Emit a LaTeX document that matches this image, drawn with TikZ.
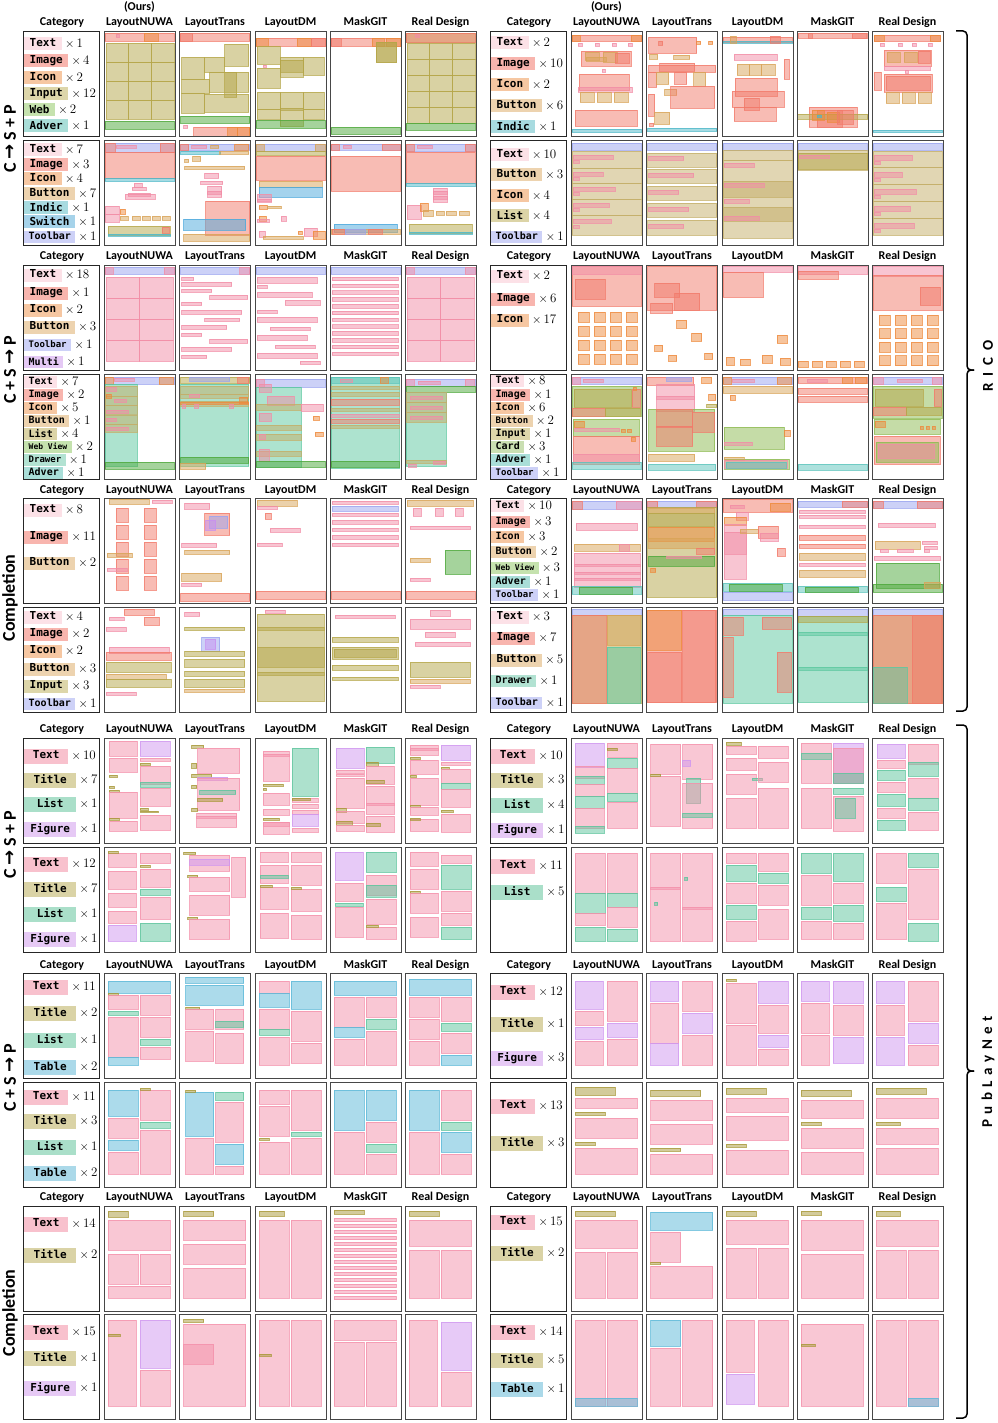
\documentclass[tikz,border=0pt]{standalone}
\usepackage{fontspec}
\newfontfamily\hdf{Carlito}
\newfontfamily\tagf{DejaVu Sans Mono}
\newfontfamily\djv{DejaVu Sans}
\definecolor{gText}{HTML}{FCE1E7}\definecolor{gImage}{HTML}{F8B5AE}\definecolor{gIcon}{HTML}{F6C7A2}
\definecolor{gInput}{HTML}{DDD6AA}\definecolor{gWeb}{HTML}{C5E2AE}\definecolor{gAdver}{HTML}{A9DED8}
\definecolor{gButton}{HTML}{EDD3AF}\definecolor{gIndic}{HTML}{A8DBE0}\definecolor{gSwitch}{HTML}{A6D3EA}
\definecolor{gToolbar}{HTML}{CDD1F7}\definecolor{gMulti}{HTML}{E5C9F5}\definecolor{gList}{HTML}{DCD4A7}
\definecolor{gDrawer}{HTML}{B2E2D2}\definecolor{gCard}{HTML}{CADFB2}
\definecolor{qText}{HTML}{F8C1CD}\definecolor{qTitle}{HTML}{DAD3A6}\definecolor{qList}{HTML}{AADFC9}
\definecolor{qFigure}{HTML}{E6C9F5}\definecolor{qTable}{HTML}{ABD9E9}
\definecolor{lTx}{HTML}{F28DA6}\definecolor{lIm}{HTML}{F27A6A}\definecolor{lIc}{HTML}{EE8A3C}
\definecolor{lIn}{HTML}{B5A649}\definecolor{lWb}{HTML}{4DA83A}\definecolor{lAd}{HTML}{5CC4BC}
\definecolor{lBt}{HTML}{D9A458}\definecolor{lInd}{HTML}{4DB8C8}\definecolor{lSw}{HTML}{4AA8DC}
\definecolor{lTb}{HTML}{9AA4F0}\definecolor{lMu}{HTML}{C890F0}\definecolor{lLi}{HTML}{C4AE68}
\definecolor{lDr}{HTML}{5CC8A0}\definecolor{lCd}{HTML}{8DBA50}
\definecolor{lPtx}{HTML}{F490AA}\definecolor{lPti}{HTML}{A89838}\definecolor{lPli}{HTML}{5CC49C}
\definecolor{lPfi}{HTML}{D096F0}\definecolor{lPta}{HTML}{5AB8D8}
\tikzset{
 lay/.style={fill=#1,fill opacity=.5,draw=#1,draw opacity=.75,line width=.4pt},
 Ltx/.style={lay=lTx},Lim/.style={lay=lIm},Lic/.style={lay=lIc},Linp/.style={lay=lIn},
 Lwb/.style={lay=lWb},Lad/.style={lay=lAd},Lbt/.style={lay=lBt},Lind/.style={lay=lInd},
 Lsw/.style={lay=lSw},Ltb/.style={lay=lTb},Lmu/.style={lay=lMu},Lli/.style={lay=lLi},
 Ldr/.style={lay=lDr},Lcd/.style={lay=lCd},
 Lptx/.style={lay=lPtx},Lpti/.style={lay=lPti},Lpli/.style={lay=lPli},Lpfi/.style={lay=lPfi},Lpta/.style={lay=lPta},
 pframe/.style={draw=black!72,line width=1pt},
 cbox/.style={draw=black!85,line width=1pt,fill=white},
 hd/.style={anchor=base,font=\hdf\bfseries\fontsize{12}{12}\selectfont,inner sep=0pt},
 side/.style={rotate=90,font=\hdf\bfseries\fontsize{18}{18}\selectfont,inner sep=0pt},
 rlab/.style={rotate=90,font=\hdf\bfseries\fontsize{15}{15}\selectfont,inner sep=0pt},
 rtag/.style={anchor=west,inner xsep=5.5pt,inner ysep=0pt,minimum height=13pt,font=\tagf\bfseries\fontsize{11}{11}\selectfont},
 ptag/.style={minimum height=15pt,minimum width=52pt},
 ptx/.style={minimum height=15pt,minimum width=44pt},
 fs10/.style={font=\tagf\bfseries\fontsize{10}{10}\selectfont,minimum height=12pt,inner xsep=4.5pt},
 fs9/.style={font=\tagf\bfseries\fontsize{9}{9}\selectfont,minimum height=12pt,inner xsep=4.5pt},
 fs8/.style={font=\tagf\bfseries\fontsize{8}{8}\selectfont,minimum height=12pt,inner xsep=4.5pt},
 cnt/.style={anchor=west,inner sep=0pt,xshift=3pt,font=\fontsize{13}{13}\selectfont},
 brc/.style={line width=1.5pt,rounded corners=4pt},
}
\newcommand\Bx[5]{\path[L#1] (#2,#3) rectangle ++(#4,#5);}
\newcommand\Grd[7]{\foreach \i in {0,...,#4}{\foreach \j in {0,...,#5}{\path[L#1] ({#2+\i*#6},{#3+\j*#7}) rectangle ++(#6,#7);}}}
\newcommand\Grg[9]{\foreach \i in {0,...,#4}{\foreach \j in {0,...,#5}{\path[L#1] ({#2+\i*#6},{#3+\j*#7}) rectangle ++(#8,#9);}}}
\newcommand\Pn[3]{\begin{scope}[shift={(#1,#2)}]#3\draw[pframe](0,0) rectangle (71,105);\end{scope}}
\newcommand\cbx[2]{\path[cbox] (#1,#2) rectangle ++(76,105);}
\newcommand\ctag[6][]{\node[rtag,fill=#4,#1] (#2) at (#3) {\vphantom{Ig}#5};\node[cnt] (#2x) at (#2.east) {$\times$\,#6};}
\newcommand\hdrs[3]{%
\node[hd] (#1c) at (62+#3,#2+4) {Category};
\node[hd] (#1a) at (139.5+#3,#2+4) {LayoutNUWA};
\node[hd] (#1b) at (215+#3,#2+4) {LayoutTrans};
\node[hd] (#1d) at (290.5+#3,#2+4) {LayoutDM};
\node[hd] (#1e) at (365.5+#3,#2+4) {MaskGIT};
\node[hd] (#1f) at (440.5+#3,#2+4) {Real Design};}
\begin{document}
\begin{tikzpicture}[x=1pt,y=-1pt]
\useasboundingbox (0,0) rectangle (997,1423);
\fill[white] (0,0) rectangle (997,1423);
% headers
\node[hd] (ours1) at (139.5,11) {(Ours)};
\node[hd] (ours2) at (606.5,11) {(Ours)};
\hdrs{hA}{22}{0}\hdrs{hB}{22}{467}
\hdrs{hC}{255}{0}\hdrs{hD}{255}{467}
\hdrs{hE}{489}{0}\hdrs{hF}{489}{467}
\hdrs{hG}{728}{0}\hdrs{hH}{728}{467}
\hdrs{hI}{964}{0}\hdrs{hJ}{964}{467}
\hdrs{hK}{1196}{0}\hdrs{hL}{1196}{467}
% side labels
\node[side] (s1) at (10,139) {C {\djv →} S + P};
\node[side] (s2) at (10,370) {C + S {\djv →} P};
\node[side] (s3) at (10,598) {Completion};
\node[side] (s4) at (10,845) {C {\djv →} S + P};
\node[side] (s5) at (10,1078) {C + S {\djv →} P};
\node[side] (s6) at (10,1313) {Completion};
\node[rlab] (rico) at (988,366) {R\hspace{7pt}I\hspace{7pt}C\hspace{7pt}O};
\node[rlab] (pln) at (988,1072) {P\hspace{5.5pt}u\hspace{5.5pt}b\hspace{5.5pt}L\hspace{5.5pt}a\hspace{5.5pt}y\hspace{5.5pt}N\hspace{5.5pt}e\hspace{5.5pt}t};
\draw[brc] (956,31) -- (967,31) -- (967,370) -- (974,370);
\draw[brc] (974,370) -- (967,370) -- (967,711) -- (956,711);
\draw[brc] (956,725) -- (967,725) -- (967,1071) -- (974,1071);
\draw[brc] (974,1071) -- (967,1071) -- (967,1418) -- (956,1418);
% ================= ROW 1
\cbx{23}{32}
\ctag{t1L1}{24,43.5}{gText}{Text}{1}
\ctag{t1L2}{24,61}{gImage}{Image}{4}
\ctag{t1L3}{24,77.5}{gIcon}{Icon}{2}
\ctag{t1L4}{24,94}{gInput}{Input}{12}
\ctag{t1L5}{24,110}{gWeb}{Web}{2}
\ctag{t1L6}{24,126}{gAdver}{Adver}{1}
\cbx{490}{32}
\ctag{t1R1}{491,43}{gText}{Text}{2}
\ctag{t1R2}{491,64}{gImage}{Image}{10}
\ctag{t1R3}{491,85}{gIcon}{Icon}{2}
\ctag{t1R4}{491,106}{gButton}{Button}{6}
\ctag{t1R5}{491,127}{gIndic}{Indic}{1}
\Pn{104}{32}{\Bx{im}{1}{1}{69}{8}\Bx{ic}{40}{1}{14}{8}\Bx{tx}{12}{2}{3}{3}\Grd{inp}{2}{11}{2}{3}{22.6}{19}\Bx{wb}{1}{89}{69}{8}}
\Pn{179.5}{32}{\Bx{im}{1}{1}{69}{8}\Bx{im}{1}{1}{12}{8}\Bx{inp}{45}{12}{24}{22}\Bx{inp}{2}{25}{23}{22}\Bx{inp}{25}{25}{20}{15}\Bx{inp}{30}{40}{39}{20}\Bx{inp}{2}{47}{28}{14}\Bx{inp}{2}{61}{23}{20}\Bx{inp}{25}{62}{44}{18}\Bx{inp}{45}{40}{12}{25}\Bx{wb}{1}{84}{69}{7}\Bx{tx}{4}{93}{4}{3}\Bx{im}{14}{95}{56}{9}\Bx{ic}{48}{95}{10}{9}\Bx{ic}{58}{95}{12}{9}}
\Pn{255}{32}{\Bx{im}{1}{6}{69}{8}\Bx{ic}{1}{6}{12}{8}\Bx{ic}{42}{6}{14}{8}\Bx{im}{56}{6}{14}{8}\Bx{inp}{2}{14}{23}{18}\Bx{tx}{8}{33}{3}{2}\Bx{inp}{2}{36}{23}{20}\Bx{inp}{25}{25}{23}{20}\Bx{inp}{48}{25}{21}{18}\Bx{inp}{25}{28}{23}{12}\Bx{inp}{2}{60}{23}{17}\Bx{inp}{25}{60}{23}{18}\Bx{inp}{48}{60}{21}{17}\Bx{inp}{2}{77}{23}{10}\Bx{inp}{25}{76}{23}{18}\Bx{inp}{48}{77}{21}{10}\Bx{wb}{1}{88}{69}{8}}
\Pn{330}{32}{\Bx{im}{1}{6}{69}{8}\Bx{im}{1}{6}{10}{8}\Bx{ic}{42}{6}{12}{8}\Bx{ic}{56}{6}{14}{8}\Bx{inp}{46}{10}{20}{20}\Bx{inp}{46}{10}{20}{20}\Bx{wb}{1}{95}{69}{7}}
\Pn{405}{32}{\Bx{inp}{1}{1}{69}{9}\Bx{im}{1}{1}{69}{9}\Bx{tx}{10}{2}{4}{3}\Grd{inp}{2}{11}{2}{4}{22.6}{16}\Bx{wb}{1}{91}{69}{7}}
\Pn{571}{32}{\Bx{im}{1}{3}{69}{6}\Bx{ic}{1}{3}{8}{6}\Bx{ic}{60}{3}{10}{6}\Bx{tx}{7}{11}{4}{3}\Bx{tx}{24}{11}{4}{3}\Bx{tx}{41}{11}{4}{3}\Bx{tx}{57}{11}{4}{3}\Bx{im}{10}{19}{50}{15}\Bx{bt}{14}{20}{14}{8}\Bx{bt}{32}{20}{14}{10}\Bx{bt}{15}{25}{20}{4}\Bx{im}{44}{21}{14}{10}\Bx{tx}{31}{37}{3}{3}\Bx{im}{8}{42}{50}{16}\Bx{tx}{7}{55}{54}{5}\Bx{bt}{9}{60}{14}{10}\Bx{bt}{26}{60}{14}{10}\Bx{bt}{43}{60}{14}{10}\Bx{im}{4}{78}{62}{16}\Bx{ind}{1}{97}{69}{3}}
\Pn{646.5}{32}{\Bx{im}{2}{5}{48}{16}\Bx{im}{12}{9}{4}{4}\Bx{ic}{50}{9}{4}{3}\Bx{ic}{62}{9}{4}{3}\Bx{bt}{3}{22}{8}{5}\Bx{bt}{27}{23}{16}{4}\Bx{im}{2}{33}{67}{7}\Bx{im}{13}{31}{35}{8}\Bx{im}{2}{40}{8}{15}\Bx{bt}{10}{40}{12}{12}\Bx{im}{28}{40}{12}{12}\Bx{bt}{47}{40}{12}{14}\Bx{bt}{18}{57}{12}{6}\Bx{im}{24}{54}{44}{22}\Bx{im}{2}{62}{6}{22}\Bx{bt}{8}{80}{15}{12}\Bx{im}{3}{91}{4}{3}\Bx{ind}{1}{96}{69}{3}}
\Pn{722}{32}{\Bx{im}{1}{5}{69}{5}\Bx{ind}{1}{9}{69}{2}\Bx{bt}{8}{4}{6}{7}\Bx{im}{48}{4}{10}{7}\Bx{tx}{12}{22}{43}{6}\Bx{bt}{15}{32}{12}{11}\Bx{bt}{27}{32}{12}{11}\Bx{bt}{39}{32}{14}{11}\Bx{im}{62}{27}{5}{20}\Bx{im}{13}{46}{42}{18}\Bx{im}{10}{59}{52}{16}\Bx{im}{22}{66}{15}{12}\Bx{im}{12}{75}{42}{14}}
\Pn{797}{32}{\Bx{im}{1}{1}{69}{5}\Bx{im}{11}{1}{4}{5}\Bx{im}{55}{1}{14}{5}\Bx{im}{12}{75}{48}{20}\Bx{im}{20}{78}{25}{17}\Bx{inp}{0.5}{82}{70}{5}\Bx{ic}{15}{78}{12}{10}\Bx{ic}{30}{80}{12}{10}\Bx{im}{40}{78}{16}{14}\Bx{ind}{20}{83}{4}{2}}
\Pn{872}{32}{\Bx{im}{2}{3}{66}{6}\Bx{ic}{2}{3}{10}{6}\Bx{ic}{58}{3}{10}{6}\Bx{tx}{8}{11}{4}{3}\Bx{tx}{26}{11}{4}{3}\Bx{tx}{40}{11}{4}{3}\Bx{tx}{56}{11}{4}{3}\Bx{im}{12}{18}{47}{16}\Bx{bt}{15}{20}{13}{10}\Bx{bt}{32}{20}{13}{10}\Bx{im}{46}{19}{12}{12}\Bx{tx}{12}{34}{46}{4}\Bx{tx}{33}{38}{3}{3}\Bx{im}{2}{40}{7}{18}\Bx{im}{12}{42}{48}{18}\Bx{im}{14}{44}{44}{14}\Bx{bt}{14}{60}{13}{11}\Bx{bt}{30}{60}{13}{11}\Bx{bt}{46}{60}{13}{11}\Bx{ind}{1}{98}{69}{2}}
% ================= ROW 2
\cbx{23}{141}
\ctag{t2L1}{24,150}{gText}{Text}{7}
\ctag{t2L2}{24,165}{gImage}{Image}{3}
\ctag{t2L3}{24,179}{gIcon}{Icon}{4}
\ctag{t2L4}{24,194}{gButton}{Button}{7}
\ctag{t2L5}{24,208}{gIndic}{Indic}{1}
\ctag{t2L6}{24,222}{gSwitch}{Switch}{1}
\ctag[fs10]{t2L7}{24,237}{gToolbar}{Toolbar}{1}
\cbx{490}{141}
\ctag{t2R1}{491,155}{gText}{Text}{10}
\ctag{t2R2}{491,175}{gButton}{Button}{3}
\ctag{t2R3}{491,196}{gIcon}{Icon}{4}
\ctag{t2R4}{491,216}{gList}{List}{4}
\ctag[fs10]{t2R5}{491,237}{gToolbar}{Toolbar}{1}
\Pn{104}{141}{\Bx{tb}{1}{2}{69}{9}\Bx{im}{1}{2}{10}{9}\Bx{im}{56}{2}{14}{9}\Bx{tx}{12}{4}{20}{3}\Bx{im}{1}{11}{69}{26}\Bx{ind}{1}{37}{69}{3}\Bx{tx}{30}{42}{8}{4}\Bx{tx}{28}{46}{14}{3}\Bx{tx}{21}{53}{30}{5}\Bx{tx}{24}{52}{22}{3}\Bx{tx}{1}{65}{14}{8}\Bx{tx}{1}{73}{14}{8}\Bx{ic}{16}{68}{5}{5}\Bx{bt}{16}{75}{8}{4}\Bx{bt}{28}{75}{8}{4}\Bx{bt}{38}{75}{8}{4}\Bx{bt}{48}{75}{8}{4}\Bx{bt}{58}{75}{8}{4}\Bx{inp}{4}{85}{62}{9}\Bx{ind}{4}{93}{62}{2}\Bx{im}{58}{86}{7}{6}}
\Pn{179.5}{141}{\Bx{tb}{1}{3}{69}{6}\Bx{im}{1}{3}{8}{6}\Bx{ic}{55}{3}{14}{6}\Bx{tx}{12}{4}{15}{3}\Bx{bt}{31}{4}{8}{3}\Bx{ind}{1}{10}{40}{3}\Bx{bt}{40}{10}{29}{3}\Bx{bt}{5}{18}{4}{3}\Bx{bt}{13}{15}{8}{5}\Bx{bt}{5}{25}{60}{3}\Bx{tx}{25}{32}{14}{5}\Bx{tx}{21}{40}{22}{3}\Bx{tx}{28}{45}{14}{11}\Bx{tx}{28}{50}{14}{3}\Bx{im}{26}{60}{44}{34}\Bx{sw}{4}{78}{62}{11}\Bx{bt}{4}{93}{66}{7}}
\Pn{255}{141}{\Bx{tb}{1}{3}{69}{7}\Bx{bt}{1}{3}{8}{7}\Bx{bt}{60}{3}{10}{7}\Bx{inp}{1}{10}{69}{4}\Bx{im}{1}{15}{69}{24}\Bx{bt}{4}{40}{63}{6}\Bx{sw}{4}{46}{63}{10}\Bx{tx}{2}{53}{14}{7}\Bx{tx}{2}{58}{14}{3}\Bx{ic}{4}{64}{8}{4}\Bx{bt}{12}{65}{14}{2}\Bx{ic}{4}{75}{7}{5}\Bx{tx}{2}{78}{12}{3}\Bx{tx}{26}{75}{5}{5}\Bx{tx}{49}{87}{13}{8}\Bx{ic}{58}{90}{12}{8}\Bx{tx}{4}{90}{6}{6}\Bx{bt}{8}{95}{40}{3}\Bx{ic}{43}{90}{4}{3}}
\Pn{330}{141}{\Bx{tb}{1}{3}{69}{6}\Bx{im}{1}{3}{8}{6}\Bx{im}{52}{3}{18}{6}\Bx{tx}{13}{4}{8}{3}\Bx{im}{1}{15}{69}{35}\Bx{sw}{4}{83}{63}{8}\Bx{bt}{1}{88}{69}{5}\Bx{im}{2}{88}{12}{5}\Bx{tb}{15}{88}{20}{5}\Bx{im}{38}{88}{14}{5}}
\Pn{405}{141}{\Bx{tb}{1}{3}{69}{7}\Bx{im}{1}{3}{8}{7}\Bx{im}{60}{3}{10}{7}\Bx{tx}{12}{4}{15}{3}\Bx{im}{1}{11}{69}{31}\Bx{ind}{1}{42}{69}{3}\Bx{tx}{28}{47}{14}{14}\Bx{tx}{28}{50}{14}{3}\Bx{tx}{28}{55}{14}{3}\Bx{tx}{2}{64}{14}{14}\Bx{ic}{15}{62}{8}{8}\Bx{bt}{18}{69}{10}{6}\Bx{bt}{31}{70}{8}{4}\Bx{bt}{41}{70}{10}{4}\Bx{bt}{54}{70}{10}{4}\Bx{inp}{4}{83}{63}{9}\Bx{ind}{4}{91}{63}{2}}
\Pn{571}{141}{\Bx{tb}{1}{2}{69}{7}\Bx{li}{1}{10}{69}{17}\Bx{li}{1}{27}{69}{15}\Bx{li}{1}{42}{69}{16}\Bx{li}{1}{58}{69}{16}\Bx{li}{1}{74}{69}{20}\Bx{tx}{2}{14}{40}{4}\Bx{tx}{2}{19}{6}{3}\Bx{tx}{2}{31}{30}{4}\Bx{tx}{2}{36}{6}{3}\Bx{tx}{2}{46}{42}{4}\Bx{tx}{2}{51}{6}{3}\Bx{tx}{2}{62}{36}{4}\Bx{tx}{2}{67}{6}{3}\Bx{tx}{2}{78}{38}{4}\Bx{tx}{2}{84}{6}{3}}
\Pn{646.5}{141}{\Bx{tb}{1}{2}{69}{7}\Bx{li}{1}{12}{69}{14}\Bx{li}{1}{28}{69}{14}\Bx{li}{1}{45}{69}{14}\Bx{li}{1}{62}{69}{14}\Bx{li}{1}{79}{69}{15}\Bx{tx}{2}{15}{35}{4}\Bx{tx}{2}{32}{45}{4}\Bx{tx}{2}{49}{30}{4}\Bx{tx}{2}{66}{40}{4}\Bx{tx}{2}{83}{35}{4}}
\Pn{722}{141}{\Bx{tb}{1}{2}{69}{7}\Bx{li}{1}{9}{69}{10}\Bx{li}{1}{19}{69}{78}\Bx{li}{1}{40}{69}{16}\Bx{li}{1}{66}{69}{14}\Bx{tx}{2}{22}{30}{4}\Bx{tx}{2}{42}{40}{4}\Bx{tx}{2}{58}{25}{4}\Bx{tx}{2}{75}{35}{4}}
\Pn{797}{141}{\Bx{tb}{1}{2}{69}{7}\Bx{li}{1}{9}{69}{20}\Bx{inp}{1}{12}{69}{16}\Bx{tx}{2}{14}{30}{3}}
\Pn{872}{141}{\Bx{tb}{1}{2}{69}{7}\Bx{li}{1}{10}{69}{16}\Bx{li}{1}{26}{69}{17}\Bx{li}{1}{43}{69}{17}\Bx{li}{1}{60}{69}{17}\Bx{li}{1}{77}{69}{17}\Bx{tx}{2}{14}{38}{5}\Bx{tx}{2}{20}{6}{3}\Bx{tx}{2}{31}{28}{5}\Bx{tx}{2}{37}{6}{3}\Bx{tx}{2}{48}{42}{5}\Bx{tx}{2}{54}{6}{3}\Bx{tx}{2}{65}{36}{5}\Bx{tx}{2}{71}{6}{3}\Bx{tx}{2}{82}{40}{5}\Bx{tx}{2}{88}{6}{3}}
% ================= ROW 3
\cbx{23}{265}
\ctag{t3L1}{24,275}{gText}{Text}{18}
\ctag{t3L2}{24,293}{gImage}{Image}{1}
\ctag{t3L3}{24,310}{gIcon}{Icon}{2}
\ctag{t3L4}{24,327}{gButton}{Button}{3}
\ctag[fs9]{t3L5}{24,345}{gToolbar}{Toolbar}{1}
\ctag[fs10]{t3L6}{24,362}{gMulti}{Multi}{1}
\cbx{490}{265}
\ctag{t3R1}{491,276}{gText}{Text}{2}
\ctag{t3R2}{491,299}{gImage}{Image}{6}
\ctag{t3R3}{491,320}{gIcon}{Icon}{17}
\Pn{104}{265}{\Bx{tb}{1}{2}{69}{7}\Bx{tx}{1}{2}{8}{7}\Bx{tx}{60}{2}{10}{7}\Grd{tx}{2}{12}{1}{3}{33.5}{21}}
\Pn{179.5}{265}{\Bx{tb}{1}{2}{69}{7}\Bx{tx}{60}{2}{10}{7}\Bx{tx}{2}{12}{12}{3}\Bx{tx}{2}{17}{50}{4}\Bx{tx}{2}{24}{30}{3}\Bx{tx}{30}{30}{38}{4}\Bx{tx}{2}{37}{20}{3}\Bx{tx}{2}{45}{60}{4}\Bx{tx}{25}{53}{35}{3}\Bx{tx}{2}{60}{45}{4}\Bx{tx}{2}{68}{20}{3}\Bx{tx}{30}{74}{38}{4}\Bx{tx}{2}{82}{50}{4}\Bx{tx}{2}{90}{25}{3}}
\Pn{255}{265}{\Bx{tb}{1}{2}{69}{7}\Bx{tx}{2}{12}{60}{6}\Bx{tx}{2}{20}{10}{3}\Bx{tx}{2}{27}{55}{5}\Bx{tx}{30}{35}{35}{5}\Bx{tx}{2}{45}{20}{3}\Bx{tx}{2}{52}{60}{5}\Bx{tx}{15}{62}{40}{3}\Bx{tx}{2}{70}{50}{5}\Bx{tx}{20}{80}{40}{3}\Bx{tx}{2}{88}{60}{5}\Bx{tx}{45}{96}{20}{3}}
\Pn{330}{265}{\Bx{tb}{1}{2}{69}{7}\foreach \k in {0,...,11}{\Bx{tx}{2}{12+\k*6.8}{66}{3.5}}}
\Pn{405}{265}{\Bx{tb}{1}{2}{69}{7}\Bx{tx}{1}{2}{8}{7}\Bx{tx}{60}{2}{10}{7}\Grd{tx}{2}{12}{1}{3}{33.5}{21}}
\Pn{571}{265}{\Bx{im}{1}{1}{69}{40}\Bx{tx}{1}{1}{69}{8}\Bx{im}{4}{14}{30}{20}\Grg{ic}{7}{47}{3}{3}{16}{14}{11}{10}}
\Pn{646.5}{265}{\Bx{im}{1}{1}{69}{44}\Bx{im}{8}{18}{25}{14}\Bx{im}{28}{28}{25}{17}\Bx{im}{4}{38}{22}{10}\Bx{ic}{30}{55}{10}{8}\Bx{ic}{45}{68}{10}{8}\Bx{ic}{8}{80}{8}{6}\Bx{ic}{22}{90}{8}{6}\Bx{ic}{58}{88}{8}{6}}
\Pn{722}{265}{\Bx{tx}{1}{1}{69}{6}\Bx{im}{1}{7}{40}{25}\Bx{ic}{55}{70}{10}{8}\Bx{ic}{4}{92}{8}{8}\Bx{ic}{18}{94}{10}{6}\Bx{ic}{40}{90}{10}{8}\Bx{ic}{58}{93}{10}{7}}
\Pn{797}{265}{\Bx{tx}{1}{1}{69}{8}\Bx{im}{1}{6}{40}{8}\Grg{ic}{1}{96}{4}{0}{14}{6}{10}{6}}
\Pn{872}{265}{\Bx{tx}{1}{1}{69}{10}\Bx{im}{1}{10}{69}{35}\Bx{im}{48}{22}{20}{18}\Grg{ic}{7}{50}{3}{3}{16}{13.5}{11}{10}}
% ================= ROW 4
\cbx{23}{374}
\ctag[fs10]{t4L1}{24,382}{gText}{Text}{7}
\ctag[fs10]{t4L2}{24,395}{gImage}{Image}{2}
\ctag[fs10]{t4L3}{24,408}{gIcon}{Icon}{5}
\ctag[fs10]{t4L4}{24,421}{gButton}{Button}{1}
\ctag[fs10]{t4L5}{24,434}{gList}{List}{4}
\ctag[fs8]{t4L6}{24,447}{gWeb}{Web View}{2}
\ctag[fs9]{t4L7}{24,460}{gDrawer}{Drawer}{1}
\ctag[fs10]{t4L8}{24,473}{gAdver}{Adver}{1}
\cbx{490}{374}
\ctag[fs10]{t4R1}{491,381}{gText}{Text}{8}
\ctag[fs10]{t4R2}{491,395}{gImage}{Image}{1}
\ctag[fs10]{t4R3}{491,408}{gIcon}{Icon}{6}
\ctag[fs9]{t4R4}{491,421}{gButton}{Button}{2}
\ctag[fs10]{t4R5}{491,434}{gInput}{Input}{1}
\ctag[fs10]{t4R6}{491,447}{gCard}{Card}{3}
\ctag[fs10]{t4R7}{491,460}{gAdver}{Adver}{1}
\ctag[fs9]{t4R8}{491,473}{gToolbar}{Toolbar}{1}
\Pn{104}{374}{\Bx{tb}{1}{3}{69}{7}\Bx{ic}{1}{3}{8}{7}\Bx{ic}{55}{3}{14}{7}\Bx{tx}{10}{4}{20}{3}\Bx{dr}{1}{10}{32}{82}\Bx{li}{1}{12}{32}{10}\Bx{li}{1}{22}{32}{9}\Bx{li}{1}{31}{32}{9}\Bx{li}{1}{41}{32}{9}\Bx{li}{1}{50}{32}{8}\Bx{tx}{2}{13}{10}{4}\Bx{tx}{10}{25}{12}{3}\Bx{tx}{2}{36}{22}{3}\Bx{tx}{2}{44}{10}{3}\Bx{tx}{2}{53}{22}{3}\Bx{ic}{2}{20}{5}{4}\Bx{wb}{1}{88}{69}{7}}
\Pn{179.5}{374}{\Bx{inp}{1}{3}{69}{6}\Bx{tb}{10}{3}{40}{4}\Bx{im}{58}{3}{11}{6}\Bx{dr}{1}{10}{68}{82}\Bx{li}{1}{12}{68}{8}\Bx{li}{1}{20}{68}{4}\Bx{tx}{10}{20}{10}{3}\Bx{li}{1}{27}{68}{5}\Bx{ic}{1}{28}{68}{2}\Bx{tx}{3}{30}{3}{4}\Bx{tx}{15}{30}{4}{4}\Bx{tx}{50}{30}{4}{4}\Bx{ic}{60}{23}{8}{6}\Bx{wb}{1}{83}{68}{6}\Bx{bt}{1}{89}{25}{6}}
\Pn{255}{374}{\Bx{tb}{1}{5}{69}{8}\Bx{tx}{1}{5}{8}{8}\Bx{dr}{1}{13}{45}{80}\Bx{tx}{4}{10}{12}{8}\Bx{tx}{12}{22}{27}{9}\Bx{li}{1}{30}{45}{6}\Bx{tx}{46}{30}{22}{7}\Bx{tx}{4}{39}{12}{8}\Bx{li}{1}{51}{45}{5}\Bx{li}{1}{60}{45}{6}\Bx{tx}{4}{60}{6}{5}\Bx{ic}{58}{42}{6}{4}\Bx{ic}{60}{58}{8}{4}\Bx{li}{1}{77}{45}{5}\Bx{tx}{4}{75}{10}{12}\Bx{wb}{1}{87}{69}{6}}
\Pn{330}{374}{\Bx{dr}{1}{3}{68}{91}\Bx{ad}{1}{3}{68}{6}\Bx{tx}{10}{5}{12}{3}\Bx{ic}{50}{3}{8}{6}\Bx{li}{1}{12}{68}{3}\Bx{li}{1}{18}{68}{4}\Bx{im}{1}{25}{68}{6}\Bx{li}{1}{34}{68}{3}\Bx{tx}{1}{40}{68}{3}\Bx{im}{1}{45}{68}{4}\Bx{li}{1}{51}{68}{3}\Bx{wb}{1}{87}{68}{6}}
\Pn{405}{374}{\Bx{tb}{1}{5}{69}{7}\Bx{tx}{1}{5}{8}{7}\Bx{tx}{60}{5}{9}{7}\Bx{tx}{13}{7}{22}{3}\Bx{wb}{1}{12}{69}{6}\Bx{dr}{1}{18}{40}{74}\Bx{li}{1}{18}{40}{10}\Bx{li}{1}{28}{40}{10}\Bx{li}{1}{38}{40}{10}\Bx{tx}{5}{22}{32}{3}\Bx{tx}{5}{32}{32}{3}\Bx{tx}{5}{42}{32}{3}\Bx{li}{1}{86}{40}{3}\Bx{tx}{3}{90}{8}{3}\Bx{tx}{28}{87}{12}{3}}
\Pn{571}{374}{\Bx{tb}{1}{3}{69}{7}\Bx{tx}{1}{3}{8}{7}\Bx{tx}{12}{5}{20}{3}\Bx{cd}{1}{12}{69}{30}\Bx{inp}{3}{15}{57}{18}\Bx{im}{61}{15}{8}{18}\Bx{ic}{62}{13}{3}{3}\Bx{im}{1}{34}{33}{8}\Bx{inp}{34}{34}{35}{8}\Bx{cd}{2}{45}{66}{17}\Bx{ic}{3}{47}{10}{6}\Bx{tx}{3}{54}{45}{3}\Bx{ic}{50}{55}{4}{3}\Bx{ic}{56}{55}{4}{3}\Bx{im}{2}{62}{66}{28}\Bx{ic}{60}{63}{4}{4}\Bx{tx}{2}{80}{66}{8}\Bx{ad}{1}{88}{69}{7}}
\Pn{646.5}{374}{\Bx{im}{1}{3}{46}{8}\Bx{tb}{20}{3}{25}{4}\Bx{ic}{55}{3}{10}{6}\Bx{tx}{10}{10}{38}{27}\Bx{tx}{10}{22}{38}{3}\Bx{ic}{62}{20}{7}{6}\Bx{inp}{60}{30}{10}{3}\Bx{cd}{2}{35}{66}{42}\Bx{im}{10}{35}{36}{18}\Bx{im}{46}{38}{22}{20}\Bx{im}{10}{52}{36}{20}\Bx{bt}{2}{80}{46}{7}\Bx{ad}{2}{90}{67}{6}}
\Pn{722}{374}{\Bx{tb}{1}{3}{69}{7}\Bx{ic}{1}{3}{8}{7}\Bx{ic}{55}{3}{14}{7}\Bx{tx}{10}{5}{22}{3}\Bx{bt}{1}{12}{69}{7}\Bx{ic}{8}{21}{5}{5}\Bx{cd}{2}{53}{60}{22}\Bx{tx}{2}{68}{28}{3}\Bx{ic}{62}{56}{6}{6}\Bx{cd}{2}{85}{65}{10}\Bx{bt}{2}{83}{20}{3}\Bx{tx}{2}{86}{63}{8}\Bx{ad}{4}{88}{60}{6}}
\Pn{797}{374}{\Bx{im}{1}{3}{69}{6}\Bx{ic}{45}{3}{10}{6}\Bx{tx}{10}{5}{20}{3}\Bx{ic}{58}{3}{11}{6}\Bx{im}{1}{14}{69}{6}\Bx{im}{1}{22}{69}{6}\Bx{ad}{1}{90}{69}{6}}
\Pn{872}{374}{\Bx{tb}{1}{3}{69}{7}\Bx{tx}{1}{3}{10}{7}\Bx{tx}{60}{3}{9}{7}\Bx{tx}{25}{5}{25}{3}\Bx{cd}{1}{12}{69}{32}\Bx{inp}{3}{15}{48}{17}\Bx{im}{62}{15}{7}{17}\Bx{im}{1}{33}{33}{8}\Bx{inp}{34}{33}{35}{8}\Bx{cd}{2}{45}{66}{15}\Bx{ic}{3}{47}{10}{6}\Bx{ic}{48}{52}{3}{3}\Bx{ic}{54}{52}{3}{3}\Bx{ic}{60}{52}{3}{3}\Bx{im}{2}{62}{66}{28}\Bx{cd}{4}{68}{62}{20}\Bx{tx}{6}{70}{56}{14}}
% ================= ROW 5
\cbx{23}{498}
\ctag{t5L1}{24,510}{gText}{Text}{8}
\ctag{t5L2}{24,537}{gImage}{Image}{11}
\ctag{t5L3}{24,563}{gButton}{Button}{2}
\cbx{490}{498}
\ctag[fs10]{t5R1}{491,506}{gText}{Text}{10}
\ctag[fs10]{t5R2}{491,522}{gImage}{Image}{3}
\ctag[fs10]{t5R3}{491,537}{gIcon}{Icon}{3}
\ctag[fs10]{t5R4}{491,552}{gButton}{Button}{2}
\ctag[fs8]{t5R5}{491,568}{gWeb}{Web View}{3}
\ctag[fs10]{t5R6}{491,582}{gAdver}{Adver}{1}
\ctag[fs9]{t5R7}{491,595}{gToolbar}{Toolbar}{1}
\Pn{104}{498}{\Bx{bt}{5}{1}{40}{5}\Bx{tx}{48}{2}{20}{3}\Grg{im}{12}{10}{1}{4}{28}{17}{12}{14}\Bx{bt}{3}{55}{25}{4}\Bx{tx}{3}{70}{20}{3}}
\Pn{179.5}{498}{\Bx{tx}{5}{5}{25}{6}\Bx{im}{25}{15}{25}{22}\Bx{tb}{30}{18}{18}{12}\Bx{mu}{26}{22}{10}{10}\Bx{tx}{2}{45}{35}{4}\Bx{bt}{5}{52}{45}{4}\Bx{bt}{2}{75}{40}{8}\Bx{tx}{2}{85}{20}{3}\Bx{im}{1}{95}{69}{8}}
\Pn{255}{498}{\Bx{bt}{2}{2}{40}{6}\Bx{tx}{2}{8}{20}{3}\Bx{im}{10}{15}{6}{6}\Bx{tx}{15}{30}{30}{4}\Bx{tx}{2}{45}{25}{3}\Bx{im}{1}{93}{69}{8}}
\Pn{330}{498}{\Bx{tx}{2}{3}{66}{3}\Bx{tb}{2}{8}{66}{5}\Bx{tx}{2}{15}{66}{3}\Bx{tx}{2}{22}{66}{4}\Bx{tx}{2}{30}{66}{3}\Bx{tx}{2}{37}{66}{4}\Bx{tx}{2}{45}{66}{3}\Bx{im}{1}{93}{69}{8}}
\Pn{405}{498}{\Bx{bt}{2}{2}{66}{6}\Bx{tx}{8}{10}{8}{8}\Bx{tx}{30}{10}{8}{8}\Bx{tx}{50}{10}{8}{8}\Bx{tx}{5}{28}{60}{3}\Bx{wb}{40}{52}{25}{24}\Bx{bt}{5}{60}{20}{4}\Bx{tx}{5}{80}{20}{3}\Bx{im}{1}{93}{69}{8}}
\Pn{571}{498}{\Bx{tb}{1}{3}{69}{8}\Bx{im}{1}{3}{10}{8}\Bx{tx}{45}{3}{25}{8}\Bx{tx}{5}{25}{61}{7}\Bx{bt}{3}{46}{66}{7}\Bx{tx}{48}{46}{10}{7}\Bx{tx}{3}{55}{66}{34}\Bx{tx}{3}{66}{66}{2}\Bx{tx}{3}{74}{66}{2}\Bx{tx}{3}{80}{66}{2}\Bx{ad}{1}{88}{69}{8}\Bx{wb}{8}{89}{53}{7}}
\Pn{646.5}{498}{\Bx{tb}{1}{3}{69}{6}\Bx{im}{1}{3}{10}{6}\Bx{im}{50}{3}{20}{6}\Bx{inp}{1}{9}{69}{90}\Bx{bt}{2}{10}{66}{5}\Bx{inp}{2}{15}{66}{13}\Bx{ic}{2}{29}{66}{14}\Bx{bt}{2}{40}{66}{10}\Bx{im}{50}{50}{18}{6}\Bx{wb}{2}{58}{66}{10}\Bx{tx}{20}{58}{35}{2}\Bx{ic}{4}{70}{5}{4}}
\Pn{722}{498}{\Bx{im}{1}{1}{69}{13}\Bx{ic}{48}{5}{20}{8}\Bx{tx}{8}{7}{14}{3}\Bx{tx}{14}{14}{12}{8}\Bx{ic}{2}{19}{22}{8}\Bx{tx}{2}{26}{22}{55}\Bx{tx}{2}{34}{22}{22}\Bx{bt}{18}{31}{18}{4}\Bx{im}{36}{28}{20}{12}\Bx{tx}{38}{35}{18}{8}\Bx{im}{55}{50}{8}{8}\Bx{ad}{1}{85}{69}{8}\Bx{wb}{7}{86}{53}{7}\Bx{tb}{1}{94}{69}{8}}
\Pn{797}{498}{\Bx{tb}{1}{3}{69}{6}\Bx{im}{45}{3}{25}{6}\Bx{tx}{2}{12}{66}{3}\Bx{tx}{2}{17}{66}{3}\Bx{tx}{2}{27}{66}{3}\Bx{im}{2}{37}{66}{5}\Bx{im}{2}{46}{66}{4}\Bx{bt}{2}{55}{66}{7}\Bx{tx}{2}{65}{66}{3}\Bx{bt}{2}{72}{66}{7}\Bx{ad}{1}{88}{69}{6}\Bx{wb}{8}{89}{53}{5}}
\Pn{872}{498}{\Bx{tb}{1}{3}{69}{7}\Bx{im}{1}{3}{10}{7}\Bx{im}{45}{3}{25}{7}\Bx{tx}{6}{25}{57}{4}\Bx{bt}{3}{43}{45}{8}\Bx{tx}{50}{43}{15}{3}\Bx{tx}{52}{48}{13}{3}\Bx{tx}{8}{51}{8}{3}\Bx{tx}{25}{51}{16}{3}\Bx{tx}{52}{51}{5}{3}\Bx{tx}{2}{58}{66}{4}\Bx{wb}{4}{65}{63}{25}\Bx{wb}{1}{86}{69}{8}\Bx{bt}{52}{84}{16}{6}}
% ================= ROW 6
\cbx{23}{607}
\ctag{t6L1}{24,617}{gText}{Text}{4}
\ctag{t6L2}{24,634}{gImage}{Image}{2}
\ctag{t6L3}{24,651}{gIcon}{Icon}{2}
\ctag{t6L4}{24,669}{gButton}{Button}{3}
\ctag{t6L5}{24,686}{gInput}{Input}{3}
\ctag[fs10]{t6L6}{24,704}{gToolbar}{Toolbar}{1}
\cbx{490}{607}
\ctag{t6R1}{491,617}{gText}{Text}{3}
\ctag{t6R2}{491,638}{gImage}{Image}{7}
\ctag{t6R3}{491,660}{gButton}{Button}{5}
\ctag[fs10]{t6R4}{491,681}{gDrawer}{Drawer}{1}
\ctag[fs10]{t6R5}{491,703}{gToolbar}{Toolbar}{1}
\Pn{104}{607}{\Bx{im}{20}{2}{30}{6}\Bx{tx}{5}{10}{15}{3}\Bx{tx}{2}{20}{20}{4}\Bx{im}{40}{10}{15}{8}\Bx{tx}{5}{40}{60}{6}\Bx{im}{2}{45}{65}{8}\Bx{inp}{2}{55}{65}{10}\Bx{bt}{2}{67}{60}{5}\Bx{inp}{2}{72}{65}{8}\Bx{tx}{2}{85}{30}{3}}
\Pn{179.5}{607}{\Bx{tx}{5}{5}{15}{4}\Bx{inp}{5}{20}{60}{3}\Bx{tb}{22}{30}{18}{14}\Bx{mu}{26}{32}{10}{10}\Bx{inp}{5}{44}{60}{5}\Bx{inp}{5}{52}{60}{8}\Bx{inp}{5}{64}{60}{5}\Bx{inp}{5}{72}{60}{8}\Bx{bt}{5}{82}{60}{3}}
\Pn{255}{607}{\Bx{inp}{2}{7}{67}{87}\Bx{inp}{2}{20}{67}{3}\Bx{inp}{2}{40}{67}{20}\Bx{inp}{2}{65}{67}{3}\Bx{tx}{10}{3}{20}{3}}
\Pn{330}{607}{\Bx{tx}{5}{8}{60}{3}\Bx{inp}{2}{30}{66}{5}\Bx{inp}{2}{40}{66}{12}\Bx{inp}{4}{42}{62}{8}\Bx{inp}{2}{58}{66}{5}\Bx{inp}{2}{70}{66}{3}}
\Pn{405}{607}{\Bx{tx}{25}{3}{20}{6}\Bx{tx}{5}{12}{60}{10}\Bx{tx}{20}{25}{30}{5}\Bx{tx}{10}{35}{55}{4}\Bx{inp}{5}{55}{60}{15}\Bx{bt}{5}{72}{60}{4}\Bx{tx}{5}{78}{30}{3}}
\Pn{571}{607}{\Bx{tb}{1}{2}{69}{6}\Bx{inp}{1}{8}{69}{88}\Bx{im}{1}{8}{34}{88}\Bx{dr}{36}{40}{33}{56}\Bx{bt}{36}{8}{33}{30}}
\Pn{646.5}{607}{\Bx{im}{1}{3}{69}{92}\Bx{ic}{1}{3}{34}{40}\Bx{im}{36}{3}{33}{92}\Bx{im}{1}{45}{34}{50}}
\Pn{722}{607}{\Bx{tb}{1}{2}{69}{6}\Bx{dr}{1}{8}{69}{88}\Bx{im}{1}{10}{20}{18}\Bx{im}{40}{10}{29}{12}\Bx{im}{1}{30}{10}{60}\Bx{im}{55}{45}{14}{40}}
\Pn{797}{607}{\Bx{tb}{1}{2}{69}{7}\Bx{dr}{1}{9}{69}{86}\Bx{inp}{1}{9}{69}{6}\Bx{dr}{1}{25}{69}{3}\Bx{dr}{1}{60}{69}{3}}
\Pn{872}{607}{\Bx{tb}{1}{2}{69}{6}\Bx{inp}{1}{8}{69}{88}\Bx{im}{1}{8}{69}{88}\Bx{im}{40}{8}{29}{88}\Bx{dr}{1}{60}{34}{36}}
% ================= ROW 7
\cbx{23}{738}
\ctag[ptx]{t7L1}{24,756}{qText}{Text}{10}
\ctag[ptag]{t7L2}{24,780}{qTitle}{Title}{7}
\ctag[ptag]{t7L3}{24,804}{qList}{List}{1}
\ctag[ptag]{t7L4}{24,829}{qFigure}{Figure}{1}
\cbx{490}{738}
\ctag[ptx]{t7R1}{491,756}{qText}{Text}{10}
\ctag[ptag]{t7R2}{491,780}{qTitle}{Title}{3}
\ctag[ptag]{t7R3}{491,805}{qList}{List}{4}
\ctag[ptag]{t7R4}{491,830}{qFigure}{Figure}{1}
\Pn{104}{738}{\Bx{ptx}{5}{3}{28}{15}\Bx{ptx}{5}{20}{28}{14}\Bx{pti}{5}{37}{8}{2}\Bx{pti}{5}{48}{5}{2}\Bx{pti}{5}{52}{10}{2}\Bx{ptx}{5}{54}{28}{26}\Bx{pti}{5}{80}{10}{2}\Bx{ptx}{5}{83}{28}{10}\Bx{pfi}{36}{3}{30}{15}\Bx{ptx}{36}{20}{30}{3}\Bx{pti}{36}{25}{10}{2}\Bx{ptx}{36}{28}{30}{18}\Bx{pli}{36}{44}{30}{5}\Bx{ptx}{36}{50}{30}{18}\Bx{pti}{36}{70}{8}{2}\Bx{pti}{36}{73}{18}{1}\Bx{ptx}{36}{77}{30}{15}}
\Pn{179.5}{738}{\Bx{pti}{12}{7}{12}{3}\Bx{ptx}{18}{10}{42}{25}\Bx{pti}{12}{25}{5}{5}\Bx{pti}{12}{36}{20}{3}\Bx{pfi}{18}{39}{30}{3}\Bx{ptx}{18}{40}{42}{32}\Bx{pli}{20}{52}{36}{4}\Bx{pti}{18}{60}{25}{3}\Bx{pti}{12}{47}{5}{3}\Bx{pti}{12}{70}{6}{3}\Bx{ptx}{17}{75}{40}{14}\Bx{ptx}{17}{78}{40}{2}}
\Pn{255}{738}{\Bx{ptx}{8}{13}{26}{30}\Bx{ptx}{8}{16}{26}{2}\Bx{pli}{37}{10}{26}{48}\Bx{pti}{8}{46}{20}{2}\Bx{pti}{8}{50}{3}{2}\Bx{ptx}{8}{55}{26}{12}\Bx{ptx}{37}{60}{26}{4}\Bx{pti}{37}{60}{18}{2}\Bx{ptx}{37}{66}{26}{4}\Bx{ptx}{8}{71}{26}{6}\Bx{ptx}{37}{72}{26}{4}\Bx{pti}{8}{80}{16}{2}\Bx{pfi}{37}{76}{26}{12}\Bx{ptx}{8}{84}{26}{12}\Bx{ptx}{8}{84}{26}{4}\Bx{ptx}{37}{90}{26}{4}}
\Pn{330}{738}{\Bx{pfi}{6}{10}{28}{20}\Bx{ptx}{6}{32}{28}{3}\Bx{ptx}{6}{36}{28}{2}\Bx{ptx}{6}{40}{28}{30}\Bx{pti}{6}{70}{10}{4}\Bx{ptx}{6}{73}{28}{12}\Bx{pti}{6}{83}{16}{4}\Bx{ptx}{6}{87}{28}{6}\Bx{pli}{36}{9}{28}{16}\Bx{pti}{36}{24}{12}{4}\Bx{ptx}{36}{28}{28}{18}\Bx{pti}{36}{42}{18}{3}\Bx{ptx}{36}{48}{28}{28}\Bx{ptx}{36}{65}{28}{2}\Bx{ptx}{36}{78}{28}{16}\Bx{pti}{36}{85}{14}{3}}
\Pn{405}{738}{\Bx{ptx}{5}{7}{28}{10}\Bx{ptx}{5}{10}{28}{2}\Bx{pti}{5}{19}{10}{2}\Bx{ptx}{5}{22}{28}{14}\Bx{pti}{5}{37}{6}{2}\Bx{ptx}{5}{40}{28}{27}\Bx{pti}{5}{67}{10}{2}\Bx{ptx}{5}{69}{28}{8}\Bx{ptx}{5}{81}{28}{12}\Bx{pti}{5}{80}{10}{2}\Bx{pfi}{36}{7}{29}{15}\Bx{ptx}{36}{24}{29}{3}\Bx{pti}{36}{29}{8}{2}\Bx{ptx}{36}{31}{29}{14}\Bx{pli}{36}{45}{29}{6}\Bx{ptx}{36}{51}{29}{18}\Bx{pti}{36}{72}{12}{2}\Bx{ptx}{36}{76}{29}{18}}
\Pn{571}{738}{\Bx{pfi}{4}{5}{29}{24}\Bx{ptx}{4}{28}{29}{12}\Bx{pli}{4}{38}{29}{8}\Bx{ptx}{4}{46}{29}{12}\Bx{pli}{4}{58}{29}{12}\Bx{ptx}{4}{70}{29}{20}\Bx{pli}{4}{88}{29}{7}\Bx{ptx}{36}{5}{30}{14}\Bx{pli}{36}{20}{30}{10}\Bx{ptx}{36}{30}{30}{25}\Bx{pli}{36}{55}{30}{8}\Bx{ptx}{36}{64}{30}{26}\Bx{pti}{36}{10}{10}{2}}
\Pn{646.5}{738}{\Bx{ptx}{4}{6}{30}{30}\Bx{ptx}{4}{38}{30}{50}\Bx{pti}{4}{36}{10}{2}\Bx{ptx}{36}{6}{30}{35}\Bx{pfi}{36}{22}{8}{6}\Bx{pli}{40}{40}{14}{25}\Bx{ptx}{36}{45}{30}{45}\Bx{pli}{36}{75}{30}{4}}
\Pn{722}{738}{\Bx{pti}{4}{4}{15}{3}\Bx{ptx}{4}{8}{30}{8}\Bx{ptx}{4}{20}{30}{12}\Bx{ptx}{4}{36}{30}{20}\Bx{pli}{30}{40}{10}{2}\Bx{ptx}{36}{8}{30}{12}\Bx{ptx}{36}{24}{30}{20}\Bx{ptx}{4}{60}{30}{30}\Bx{ptx}{36}{50}{30}{40}}
\Pn{797}{738}{\Bx{ptx}{4}{5}{30}{40}\Bx{pli}{4}{15}{30}{6}\Bx{pfi}{36}{5}{30}{40}\Bx{ptx}{36}{10}{30}{35}\Bx{pli}{36}{35}{30}{10}\Bx{ptx}{4}{50}{30}{40}\Bx{pli}{36}{50}{30}{6}\Bx{ptx}{36}{58}{30}{35}\Bx{pli}{38}{60}{20}{20}}
\Pn{872}{738}{\Bx{pfi}{5}{6}{28}{14}\Bx{ptx}{5}{22}{28}{8}\Bx{pli}{5}{32}{28}{10}\Bx{ptx}{5}{44}{28}{10}\Bx{pli}{5}{56}{28}{12}\Bx{ptx}{5}{70}{28}{10}\Bx{pli}{5}{82}{28}{10}\Bx{ptx}{36}{6}{30}{20}\Bx{pli}{36}{24}{30}{14}\Bx{ptx}{36}{40}{30}{20}\Bx{pli}{36}{60}{30}{12}\Bx{ptx}{36}{74}{30}{18}}
% ================= ROW 8
\cbx{23}{847}
\ctag[ptx]{t8L1}{24,864}{qText}{Text}{12}
\ctag[ptag]{t8L2}{24,889}{qTitle}{Title}{7}
\ctag[ptag]{t8L3}{24,914}{qList}{List}{1}
\ctag[ptag]{t8L4}{24,939}{qFigure}{Figure}{1}
\cbx{490}{847}
\ctag[ptx]{t8R1}{491,866}{qText}{Text}{11}
\ctag[ptag]{t8R2}{491,892}{qList}{List}{5}
\Pn{104}{847}{\Bx{ptx}{4}{6}{28}{14}\Bx{pti}{4}{4}{10}{2}\Bx{ptx}{4}{24}{28}{18}\Bx{ptx}{4}{46}{28}{14}\Bx{ptx}{4}{64}{28}{12}\Bx{pfi}{4}{78}{28}{16}\Bx{ptx}{36}{6}{30}{10}\Bx{pti}{36}{18}{10}{2}\Bx{ptx}{36}{22}{30}{18}\Bx{pli}{36}{42}{30}{6}\Bx{ptx}{36}{50}{30}{22}\Bx{pli}{36}{76}{30}{18}}
\Pn{179.5}{847}{\Bx{pti}{4}{5}{12}{2}\Bx{ptx}{10}{8}{40}{16}\Bx{pfi}{10}{12}{40}{6}\Bx{pti}{8}{28}{10}{2}\Bx{ptx}{10}{30}{40}{14}\Bx{ptx}{10}{48}{40}{20}\Bx{pti}{8}{70}{10}{2}\Bx{ptx}{10}{72}{40}{20}\Bx{ptx}{52}{10}{14}{40}}
\Pn{255}{847}{\Bx{ptx}{5}{5}{28}{10}\Bx{ptx}{5}{18}{28}{18}\Bx{pli}{5}{28}{28}{3}\Bx{ptx}{5}{40}{28}{22}\Bx{pti}{5}{38}{12}{2}\Bx{ptx}{5}{66}{28}{25}\Bx{ptx}{36}{5}{30}{10}\Bx{ptx}{36}{18}{30}{20}\Bx{ptx}{36}{42}{30}{22}\Bx{pti}{36}{40}{10}{2}\Bx{ptx}{36}{68}{30}{24}}
\Pn{330}{847}{\Bx{pfi}{5}{5}{28}{28}\Bx{ptx}{5}{36}{28}{18}\Bx{pli}{5}{56}{28}{3}\Bx{ptx}{5}{60}{28}{30}\Bx{pli}{36}{5}{30}{20}\Bx{ptx}{36}{28}{30}{20}\Bx{pli}{36}{38}{30}{12}\Bx{ptx}{36}{52}{30}{25}\Bx{ptx}{36}{80}{30}{12}\Bx{pti}{36}{78}{12}{2}}
\Pn{405}{847}{\Bx{ptx}{5}{5}{28}{14}\Bx{ptx}{5}{22}{28}{20}\Bx{pti}{5}{44}{10}{2}\Bx{ptx}{5}{46}{28}{20}\Bx{ptx}{5}{70}{28}{20}\Bx{ptx}{36}{8}{30}{8}\Bx{pli}{36}{18}{30}{24}\Bx{ptx}{36}{44}{30}{20}\Bx{ptx}{36}{66}{30}{12}\Bx{pli}{36}{80}{30}{12}}
\Pn{571}{847}{\Bx{ptx}{4}{6}{30}{40}\Bx{pli}{4}{46}{30}{20}\Bx{ptx}{4}{66}{30}{12}\Bx{pli}{4}{80}{30}{14}\Bx{ptx}{36}{6}{30}{40}\Bx{pli}{36}{46}{30}{14}\Bx{ptx}{36}{60}{30}{20}\Bx{pli}{36}{82}{30}{12}}
\Pn{646.5}{847}{\Bx{ptx}{4}{6}{30}{88}\Bx{ptx}{36}{6}{30}{88}\Bx{pli}{38}{30}{3}{3}\Bx{pli}{8}{55}{3}{3}\Bx{ptx}{4}{40}{30}{2}\Bx{ptx}{36}{60}{30}{2}}
\Pn{722}{847}{\Bx{ptx}{4}{6}{30}{10}\Bx{pli}{4}{18}{30}{16}\Bx{ptx}{4}{36}{30}{20}\Bx{pli}{4}{58}{30}{14}\Bx{ptx}{4}{74}{30}{20}\Bx{ptx}{36}{6}{30}{18}\Bx{pli}{36}{26}{30}{10}\Bx{ptx}{36}{38}{30}{20}\Bx{ptx}{36}{62}{30}{30}}
\Pn{797}{847}{\Bx{pli}{4}{6}{30}{20}\Bx{ptx}{4}{28}{30}{30}\Bx{pli}{4}{60}{30}{12}\Bx{ptx}{4}{74}{30}{18}\Bx{pli}{36}{6}{30}{28}\Bx{ptx}{36}{36}{30}{20}\Bx{pli}{36}{58}{30}{16}\Bx{ptx}{36}{76}{30}{16}}
\Pn{872}{847}{\Bx{ptx}{4}{6}{30}{30}\Bx{pli}{4}{40}{30}{14}\Bx{ptx}{4}{56}{30}{36}\Bx{pli}{36}{6}{30}{14}\Bx{ptx}{36}{22}{30}{50}\Bx{pli}{36}{76}{30}{18}}
% ================= ROW 9
\cbx{23}{973}
\ctag[ptx]{t9L1}{24,987}{qText}{Text}{11}
\ctag[ptag]{t9L2}{24,1013}{qTitle}{Title}{2}
\ctag[ptag]{t9L3}{24,1040}{qList}{List}{1}
\ctag[ptag]{t9L4}{24,1067}{qTable}{Table}{2}
\cbx{490}{973}
\ctag[ptx]{t9R1}{491,992}{qText}{Text}{12}
\ctag[ptag]{t9R2}{491,1024}{qTitle}{Title}{1}
\ctag[ptag]{t9R3}{491,1058}{qFigure}{Figure}{3}
\Pn{104}{973}{\Bx{pta}{4}{8}{62}{12}\Bx{pti}{4}{20}{10}{2}\Bx{ptx}{4}{22}{30}{14}\Bx{pli}{4}{38}{30}{4}\Bx{ptx}{4}{44}{30}{40}\Bx{pta}{4}{84}{30}{8}\Bx{ptx}{36}{22}{30}{20}\Bx{ptx}{36}{44}{30}{20}\Bx{pli}{36}{66}{30}{6}\Bx{ptx}{36}{74}{30}{12}}
\Pn{179.5}{973}{\Bx{pta}{6}{4}{58}{6}\Bx{pta}{6}{12}{58}{20}\Bx{pti}{6}{34}{14}{2}\Bx{ptx}{6}{36}{28}{20}\Bx{ptx}{36}{36}{28}{20}\Bx{pli}{36}{48}{28}{6}\Bx{ptx}{6}{58}{28}{30}\Bx{ptx}{36}{60}{28}{30}}
\Pn{255}{973}{\Bx{ptx}{4}{8}{30}{12}\Bx{pta}{4}{20}{30}{14}\Bx{ptx}{4}{36}{30}{20}\Bx{pli}{4}{56}{30}{6}\Bx{ptx}{4}{64}{30}{28}\Bx{pta}{36}{8}{30}{28}\Bx{ptx}{36}{38}{30}{30}\Bx{ptx}{36}{70}{30}{20}}
\Pn{330}{973}{\Bx{pta}{4}{8}{62}{14}\Bx{ptx}{4}{24}{30}{30}\Bx{pta}{4}{54}{30}{10}\Bx{ptx}{4}{66}{30}{26}\Bx{ptx}{36}{24}{30}{20}\Bx{pli}{36}{46}{30}{10}\Bx{ptx}{36}{58}{30}{34}}
\Pn{405}{973}{\Bx{pta}{4}{6}{62}{16}\Bx{ptx}{4}{24}{30}{20}\Bx{ptx}{4}{46}{30}{20}\Bx{ptx}{4}{68}{30}{24}\Bx{ptx}{36}{24}{30}{24}\Bx{pli}{36}{50}{30}{8}\Bx{ptx}{36}{60}{30}{20}\Bx{pta}{36}{82}{30}{10}}
\Pn{571}{973}{\Bx{pfi}{4}{8}{28}{28}\Bx{ptx}{4}{38}{28}{14}\Bx{pfi}{4}{54}{28}{12}\Bx{ptx}{4}{68}{28}{24}\Bx{ptx}{36}{8}{30}{40}\Bx{pfi}{36}{50}{30}{14}\Bx{ptx}{36}{66}{30}{26}}
\Pn{646.5}{973}{\Bx{pfi}{4}{8}{28}{20}\Bx{ptx}{4}{30}{28}{40}\Bx{pfi}{4}{70}{28}{22}\Bx{ptx}{36}{8}{30}{30}\Bx{pfi}{36}{40}{30}{20}\Bx{ptx}{36}{62}{30}{30}}
\Pn{722}{973}{\Bx{pti}{4}{6}{10}{2}\Bx{ptx}{4}{10}{30}{40}\Bx{ptx}{4}{52}{30}{40}\Bx{pfi}{36}{8}{30}{22}\Bx{ptx}{36}{32}{30}{28}\Bx{pfi}{36}{62}{30}{12}\Bx{ptx}{36}{76}{30}{16}}
\Pn{797}{973}{\Bx{pfi}{4}{8}{28}{20}\Bx{ptx}{4}{30}{28}{30}\Bx{ptx}{4}{62}{28}{30}\Bx{pfi}{36}{8}{30}{22}\Bx{ptx}{36}{32}{30}{30}\Bx{pfi}{36}{64}{30}{26}}
\Pn{872}{973}{\Bx{pfi}{4}{8}{28}{22}\Bx{ptx}{4}{32}{28}{30}\Bx{pfi}{4}{64}{28}{28}\Bx{ptx}{36}{8}{30}{40}\Bx{pfi}{36}{50}{30}{20}\Bx{ptx}{36}{72}{30}{20}}
% ================= ROW 10
\cbx{23}{1082}
\ctag[ptx]{t10L1}{24,1097}{qText}{Text}{11}
\ctag[ptag]{t10L2}{24,1121}{qTitle}{Title}{3}
\ctag[ptag]{t10L3}{24,1147}{qList}{List}{1}
\ctag[ptag]{t10L4}{24,1173}{qTable}{Table}{2}
\cbx{490}{1082}
\ctag[ptx]{t10R1}{491,1106}{qText}{Text}{13}
\ctag[ptag]{t10R2}{491,1143}{qTitle}{Title}{3}
\Pn{104}{1082}{\Bx{pta}{4}{8}{30}{26}\Bx{ptx}{4}{36}{30}{20}\Bx{pta}{4}{58}{30}{10}\Bx{ptx}{4}{70}{30}{22}\Bx{ptx}{36}{8}{30}{30}\Bx{pti}{36}{6}{10}{2}\Bx{pli}{36}{40}{30}{6}\Bx{ptx}{36}{48}{30}{44}}
\Pn{179.5}{1082}{\Bx{pta}{6}{10}{28}{44}\Bx{pti}{6}{8}{10}{2}\Bx{ptx}{6}{56}{28}{36}\Bx{pli}{36}{10}{28}{8}\Bx{ptx}{36}{20}{28}{40}\Bx{pta}{36}{62}{28}{20}\Bx{ptx}{36}{84}{28}{8}}
\Pn{255}{1082}{\Bx{ptx}{4}{8}{30}{14}\Bx{ptx}{4}{24}{30}{30}\Bx{pti}{4}{56}{10}{2}\Bx{ptx}{4}{60}{30}{32}\Bx{ptx}{36}{8}{30}{40}\Bx{pli}{36}{50}{30}{4}\Bx{ptx}{36}{56}{30}{36}}
\Pn{330}{1082}{\Bx{pta}{4}{8}{30}{40}\Bx{ptx}{4}{50}{30}{42}\Bx{pta}{36}{8}{30}{30}\Bx{ptx}{36}{40}{30}{20}\Bx{pli}{36}{62}{30}{8}\Bx{ptx}{36}{72}{30}{20}}
\Pn{405}{1082}{\Bx{pta}{4}{8}{30}{40}\Bx{ptx}{4}{50}{30}{42}\Bx{ptx}{36}{8}{30}{30}\Bx{pli}{36}{40}{30}{8}\Bx{pta}{36}{50}{30}{20}\Bx{ptx}{36}{72}{30}{20}}
\Pn{571}{1082}{\Bx{pti}{4}{5}{40}{8}\Bx{ptx}{4}{16}{62}{10}\Bx{pti}{4}{30}{30}{3}\Bx{ptx}{4}{36}{62}{20}\Bx{pti}{4}{60}{20}{3}\Bx{ptx}{4}{66}{62}{26}}
\Pn{646.5}{1082}{\Bx{pti}{4}{8}{50}{6}\Bx{ptx}{4}{18}{62}{20}\Bx{ptx}{4}{42}{62}{20}\Bx{pti}{4}{66}{30}{3}\Bx{ptx}{4}{72}{62}{20}}
\Pn{722}{1082}{\Bx{pti}{4}{6}{40}{6}\Bx{ptx}{4}{16}{62}{14}\Bx{ptx}{4}{34}{62}{24}\Bx{pti}{4}{62}{20}{3}\Bx{ptx}{4}{68}{62}{24}}
\Pn{797}{1082}{\Bx{pti}{4}{8}{50}{6}\Bx{ptx}{4}{18}{62}{18}\Bx{pti}{4}{40}{20}{3}\Bx{ptx}{4}{46}{62}{20}\Bx{ptx}{4}{70}{62}{22}}
\Pn{872}{1082}{\Bx{pti}{4}{6}{50}{6}\Bx{ptx}{4}{16}{62}{20}\Bx{pti}{4}{40}{24}{3}\Bx{ptx}{4}{46}{62}{16}\Bx{ptx}{4}{66}{62}{26}}
% ================= ROW 11
\cbx{23}{1206}
\ctag[ptx]{t11L1}{24,1224}{qText}{Text}{14}
\ctag[ptag]{t11L2}{24,1255}{qTitle}{Title}{2}
\cbx{490}{1206}
\ctag[ptx]{t11R1}{491,1222}{qText}{Text}{15}
\ctag[ptag]{t11R2}{491,1253}{qTitle}{Title}{2}
\Pn{104}{1206}{\Bx{pti}{4}{5}{20}{6}\Bx{ptx}{4}{14}{62}{30}\Bx{ptx}{4}{48}{30}{30}\Bx{ptx}{36}{48}{30}{30}\Bx{ptx}{4}{80}{62}{12}}
\Pn{179.5}{1206}{\Bx{pti}{4}{5}{30}{5}\Bx{ptx}{4}{14}{62}{20}\Bx{ptx}{4}{38}{62}{20}\Bx{ptx}{4}{62}{62}{30}}
\Pn{255}{1206}{\Bx{pti}{4}{5}{25}{5}\Bx{ptx}{4}{14}{30}{78}\Bx{ptx}{36}{14}{30}{78}}
\Pn{330}{1206}{\Bx{pti}{4}{4}{30}{4}\foreach \k in {0,...,13}{\Bx{ptx}{4}{12+\k*6}{62}{3.5}}}
\Pn{405}{1206}{\Bx{pti}{4}{5}{30}{5}\Bx{ptx}{4}{14}{62}{26}\Bx{ptx}{4}{44}{30}{48}\Bx{ptx}{36}{44}{30}{48}}
\Pn{571}{1206}{\Bx{pti}{4}{5}{40}{5}\Bx{ptx}{4}{14}{62}{28}\Bx{ptx}{4}{46}{30}{46}\Bx{ptx}{36}{46}{30}{46}}
\Pn{646.5}{1206}{\Bx{pta}{4}{6}{62}{18}\Bx{ptx}{4}{26}{30}{30}\Bx{pti}{4}{56}{10}{2}\Bx{ptx}{4}{60}{62}{32}}
\Pn{722}{1206}{\Bx{pti}{4}{5}{30}{5}\Bx{ptx}{4}{14}{62}{24}\Bx{ptx}{4}{42}{30}{50}\Bx{ptx}{36}{42}{30}{50}}
\Pn{797}{1206}{\Bx{pti}{4}{5}{20}{4}\Bx{ptx}{4}{14}{62}{30}\Bx{ptx}{4}{48}{62}{44}}
\Pn{872}{1206}{\Bx{pti}{4}{5}{24}{5}\Bx{ptx}{4}{14}{62}{26}\Bx{ptx}{4}{44}{30}{48}\Bx{ptx}{36}{44}{30}{48}}
% ================= ROW 12
\cbx{23}{1314}
\ctag[ptx]{t12L1}{24,1332}{qText}{Text}{15}
\ctag[ptag]{t12L2}{24,1358}{qTitle}{Title}{1}
\ctag[ptag]{t12L3}{24,1388}{qFigure}{Figure}{1}
\cbx{490}{1314}
\ctag[ptx]{t12R1}{491,1332}{qText}{Text}{14}
\ctag[ptag]{t12R2}{491,1360}{qTitle}{Title}{5}
\ctag[ptag]{t12R3}{491,1389}{qTable}{Table}{1}
\Pn{104}{1314}{\Bx{ptx}{4}{6}{28}{86}\Bx{pti}{4}{20}{12}{2}\Bx{pfi}{36}{6}{30}{48}\Bx{ptx}{36}{56}{30}{36}}
\Pn{179.5}{1314}{\Bx{pti}{4}{5}{20}{3}\Bx{ptx}{4}{10}{62}{82}\Bx{ptx}{4}{30}{30}{20}}
\Pn{255}{1314}{\Bx{ptx}{4}{6}{30}{86}\Bx{ptx}{36}{6}{30}{86}\Bx{pti}{4}{40}{12}{2}}
\Pn{330}{1314}{\Bx{ptx}{4}{6}{62}{20}\Bx{ptx}{4}{28}{30}{64}\Bx{ptx}{36}{28}{30}{64}}
\Pn{405}{1314}{\Bx{ptx}{4}{6}{28}{86}\Bx{pfi}{36}{8}{30}{48}\Bx{ptx}{36}{58}{30}{34}}
\Pn{571}{1314}{\Bx{ptx}{4}{6}{30}{86}\Bx{ptx}{36}{6}{30}{86}\Bx{pta}{4}{84}{62}{8}}
\Pn{646.5}{1314}{\Bx{pta}{4}{6}{30}{26}\Bx{ptx}{4}{34}{30}{58}\Bx{ptx}{36}{6}{30}{86}}
\Pn{722}{1314}{\Bx{ptx}{4}{6}{28}{52}\Bx{pfi}{4}{60}{28}{30}\Bx{ptx}{36}{6}{30}{86}}
\Pn{797}{1314}{\Bx{ptx}{4}{10}{62}{82}\Bx{pti}{4}{30}{14}{2}}
\Pn{872}{1314}{\Bx{ptx}{4}{6}{30}{86}\Bx{ptx}{36}{6}{30}{86}\Bx{pta}{36}{84}{30}{8}}
\end{tikzpicture}
\end{document}
